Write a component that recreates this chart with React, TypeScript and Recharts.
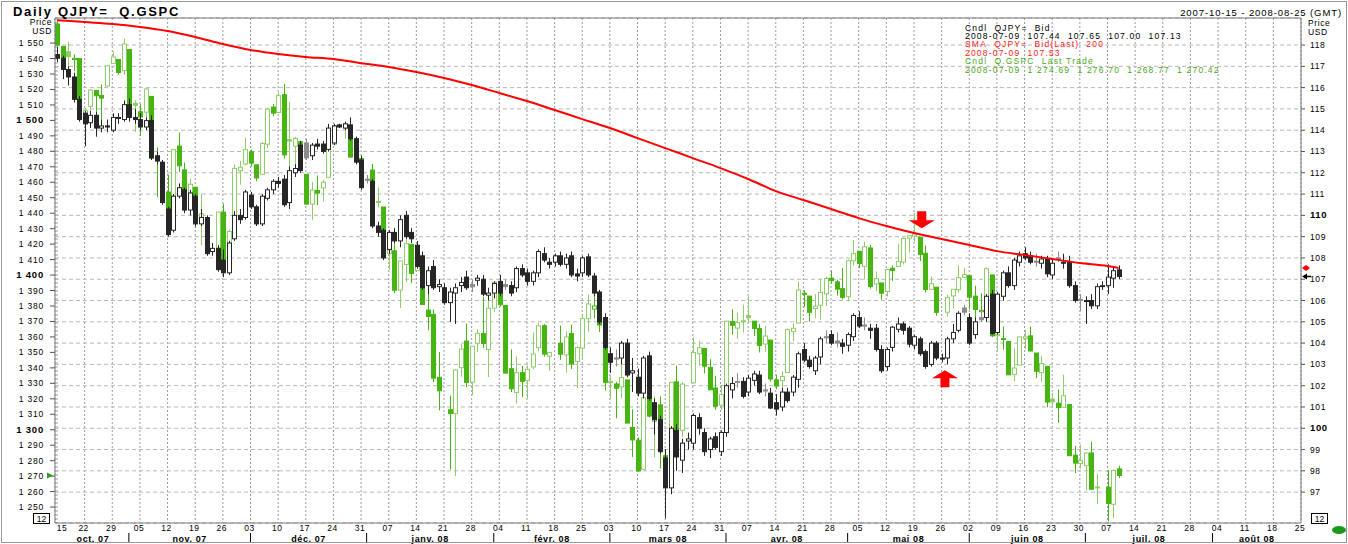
import React from "react";
import {
  Bar,
  CartesianGrid,
  ComposedChart,
  Line,
  ReferenceDot,
  ReferenceLine,
  XAxis,
  YAxis,
} from "recharts";

type Ohlc = [number, number, number, number];

const FONT = '"Liberation Sans", Arial, sans-serif';
const W = 1348;
const H = 544;
const SP = "\u00a0";

// one slot per weekday, index 0 = Mon 2007-10-15, last = Wed 2008-07-09
// QJPY= bid, [open, high, low, close]
const jpyOhlc: Ohlc[] = [
  [117.55, 117.9, 117.2, 117.38], [117.38, 117.5, 116.4, 116.85], [116.85, 117.0, 116.1, 116.5], [116.5, 116.7, 115.3, 115.45], [115.45, 115.6, 114.4, 114.5],
  [114.8, 114.9, 113.25, 114.3], [114.35, 114.9, 114.1, 114.7], [114.7, 114.85, 113.7, 114.1], [114.1, 114.5, 113.9, 114.2], [114.2, 114.5, 113.9, 114.15],
  [114.0, 114.8, 113.9, 114.6], [114.6, 114.8, 114.3, 114.55], [114.5, 115.4, 114.4, 115.2], [115.2, 115.5, 114.4, 114.6], [114.6, 115.0, 114.3, 114.5],
  [114.5, 114.8, 114.0, 114.15], [114.15, 114.6, 114.0, 114.45], [114.45, 114.7, 112.6, 112.7], [112.8, 113.0, 112.4, 112.55], [112.5, 112.6, 110.5, 110.6],
  [110.3, 110.4, 109.0, 109.1], [109.3, 111.0, 109.2, 110.9], [110.9, 111.5, 110.8, 111.3], [111.2, 111.3, 110.1, 110.25], [110.25, 111.2, 110.0, 111.05],
  [110.9, 111.0, 109.5, 109.6], [109.6, 110.3, 109.5, 109.9], [109.9, 110.0, 108.1, 108.2], [108.3, 108.7, 108.1, 108.45], [108.45, 108.6, 107.35, 107.45],
  [107.9, 108.4, 107.1, 107.3], [107.3, 108.8, 107.2, 108.7], [108.9, 110.2, 108.8, 110.0], [110.0, 110.3, 109.6, 109.8], [109.9, 111.2, 109.8, 111.1],
  [110.95, 111.1, 110.3, 110.4], [110.4, 110.5, 109.5, 109.6], [109.6, 111.0, 109.5, 110.9], [110.8, 111.3, 110.7, 111.2], [111.2, 111.7, 111.0, 111.6],
  [111.6, 111.8, 111.3, 111.5], [111.7, 111.9, 110.4, 110.5], [110.6, 112.3, 110.3, 112.1], [112.0, 112.4, 111.8, 112.2], [113.3, 113.5, 112.0, 112.1],
  [113.4, 113.6, 112.6, 112.7], [112.8, 113.4, 112.6, 113.3], [113.35, 113.6, 113.1, 113.25], [113.35, 113.5, 112.9, 113.0], [113.1, 114.3, 113.0, 114.1],
  [113.4, 114.3, 113.3, 114.2], [114.25, 114.3, 114.1, 114.15], [114.1, 114.4, 114.0, 114.3], [114.25, 114.6, 113.5, 113.6], [113.6, 113.7, 112.4, 112.5],
  [112.6, 112.8, 111.2, 111.3], [111.7, 111.9, 111.5, 111.65], [111.6, 111.7, 109.4, 109.5], [109.5, 109.7, 109.0, 109.2], [109.3, 109.4, 107.9, 108.0],
  [108.4, 109.3, 108.2, 109.2], [109.2, 109.4, 108.7, 108.8], [108.8, 110.0, 108.5, 109.8], [110.0, 110.2, 108.9, 109.0], [109.2, 109.4, 108.7, 108.9],
  [108.6, 108.8, 107.5, 107.6], [108.1, 108.3, 106.5, 106.6], [106.7, 107.6, 106.3, 107.4], [107.6, 107.9, 106.5, 106.6], [106.65, 107.0, 106.4, 106.75],
  [106.6, 106.8, 105.8, 105.9], [105.9, 106.6, 105.0, 106.4], [106.35, 106.8, 104.9, 106.6], [106.7, 107.1, 106.4, 106.85], [107.1, 107.4, 106.5, 106.6],
  [106.75, 107.0, 106.4, 106.65], [106.95, 107.2, 106.7, 107.05], [107.0, 107.2, 106.2, 106.3], [106.25, 106.6, 106.0, 106.35], [106.35, 106.9, 106.1, 106.8],
  [106.9, 107.2, 106.2, 106.35], [106.75, 107.0, 106.5, 106.65], [106.7, 106.9, 106.2, 106.35], [106.6, 107.6, 106.4, 107.5], [107.5, 107.7, 107.1, 107.2],
  [107.3, 107.5, 106.7, 106.9], [106.9, 107.4, 106.7, 107.3], [107.3, 108.4, 107.1, 108.3], [108.2, 108.5, 107.8, 107.9], [107.8, 108.0, 107.5, 107.7],
  [107.8, 108.2, 107.6, 108.1], [108.1, 108.3, 107.6, 107.7], [107.7, 108.2, 107.5, 108.0], [108.1, 108.3, 107.1, 107.2], [107.25, 107.5, 106.9, 107.15],
  [107.3, 108.1, 107.1, 108.0], [108.05, 108.2, 107.1, 107.2], [107.15, 107.3, 106.2, 106.35], [106.4, 106.5, 104.9, 105.0], [105.2, 105.4, 103.7, 103.8],
  [103.5, 103.8, 102.6, 103.1], [103.3, 103.7, 102.9, 103.25], [103.3, 104.1, 103.0, 104.0], [104.0, 104.2, 102.4, 102.5], [102.6, 103.3, 101.7, 102.7],
  [102.4, 102.8, 101.5, 101.65], [101.65, 103.4, 101.4, 103.3], [103.4, 103.6, 101.3, 101.4], [101.2, 101.4, 99.7, 100.4], [100.4, 100.6, 98.8, 98.9],
  [98.6, 99.0, 95.77, 97.2], [97.2, 100.1, 96.9, 100.0], [99.9, 100.2, 98.0, 98.65], [98.5, 99.5, 97.9, 99.3], [99.4, 99.8, 99.0, 99.5],
  [99.3, 100.7, 99.0, 100.6], [100.5, 100.7, 99.7, 100.0], [99.8, 100.0, 98.7, 98.9], [99.0, 99.6, 98.6, 99.5], [99.6, 99.8, 99.0, 99.1],
  [98.9, 99.9, 98.7, 99.8], [99.8, 102.1, 99.6, 102.0], [101.8, 102.4, 101.4, 102.1], [102.2, 102.6, 101.9, 102.15], [102.2, 102.4, 101.4, 101.5],
  [101.7, 102.5, 101.5, 102.35], [102.25, 102.7, 102.0, 102.55], [102.5, 102.7, 101.6, 101.7], [101.8, 102.1, 101.5, 101.75], [101.65, 101.9, 100.9, 100.95],
  [101.2, 101.6, 100.6, 100.9], [101.0, 101.9, 100.8, 101.7], [101.7, 101.9, 101.2, 101.3], [101.7, 102.5, 101.5, 102.4], [102.3, 103.6, 101.9, 103.5],
  [103.7, 104.0, 103.1, 103.2], [103.2, 103.4, 102.8, 102.9], [102.7, 103.4, 102.5, 103.3], [103.35, 104.3, 103.0, 104.2], [104.3, 104.6, 104.0, 104.25],
  [104.4, 104.6, 103.9, 104.0], [104.1, 104.5, 103.8, 104.0], [104.0, 104.2, 103.5, 103.85], [103.9, 104.5, 103.6, 104.4], [104.3, 105.4, 104.1, 105.3],
  [105.2, 105.5, 104.7, 104.8], [104.85, 105.2, 104.6, 104.8], [104.7, 104.9, 104.2, 104.6], [104.7, 104.9, 103.6, 103.7], [103.7, 103.9, 102.6, 102.7],
  [102.9, 103.8, 102.7, 103.7], [103.8, 104.8, 103.6, 104.75], [104.65, 105.2, 104.5, 104.9], [104.9, 105.0, 104.4, 104.6], [104.7, 104.8, 103.8, 103.95],
  [103.9, 104.4, 103.7, 104.3], [104.2, 104.3, 103.4, 103.5], [103.6, 103.7, 102.8, 102.9], [103.0, 104.1, 102.9, 104.0], [104.0, 104.1, 103.2, 103.3],
  [103.3, 103.5, 103.1, 103.25], [103.3, 104.3, 103.0, 104.2], [104.2, 104.9, 104.0, 104.5], [104.6, 105.5, 104.5, 105.4], [105.65, 105.8, 105.3, 105.45],
  [105.2, 105.4, 103.9, 104.0], [104.4, 105.2, 104.2, 105.0], [105.2, 105.5, 105.0, 105.1], [105.2, 106.3, 105.0, 106.2], [106.3, 106.5, 104.4, 104.45],
  [104.5, 106.4, 104.4, 106.3], [106.2, 107.4, 106.0, 107.3], [107.3, 107.6, 106.6, 106.7], [106.7, 108.0, 106.5, 107.9], [107.8, 108.3, 107.6, 108.1],
  [108.2, 108.5, 107.9, 108.0], [108.1, 108.3, 107.7, 107.8], [107.85, 108.2, 107.6, 107.8], [107.75, 108.1, 107.5, 107.95], [107.95, 108.1, 107.1, 107.25],
  [107.2, 108.0, 107.0, 107.75], [108.0, 108.3, 107.8, 107.95], [107.8, 108.2, 107.5, 107.75], [107.8, 108.1, 106.6, 106.7], [106.7, 106.9, 105.9, 106.0],
  [106.05, 106.3, 105.5, 106.0], [106.0, 106.2, 104.9, 106.0], [106.0, 106.3, 105.6, 105.75], [105.75, 106.8, 105.6, 106.65], [106.7, 106.9, 106.5, 106.7],
  [106.7, 107.7, 106.3, 107.1], [107.05, 107.6, 106.6, 107.4], [107.44, 107.65, 107.0, 107.13],
];

// Q.GSPC last trade, [open, high, low, close]; null = US market holiday
const spxOhlc: (Ohlc | null)[] = [
  [1562.3, 1564.7, 1540.8, 1548.7], [1547.8, 1547.8, 1536.3, 1538.5], [1544.4, 1550.7, 1526.0, 1541.2], [1539.3, 1542.8, 1531.8, 1540.1], [1540.0, 1540.0, 1500.3, 1500.6],
  [1497.8, 1508.1, 1490.4, 1506.3], [1509.1, 1520.0, 1503.6, 1519.6], [1519.4, 1519.4, 1489.6, 1515.9], [1516.2, 1523.2, 1500.5, 1514.4], [1522.2, 1535.5, 1522.2, 1535.3],
  [1536.9, 1544.7, 1536.9, 1541.0], [1539.4, 1539.4, 1529.6, 1531.0], [1532.2, 1552.8, 1529.4, 1549.4], [1545.8, 1545.8, 1506.7, 1508.4], [1511.0, 1513.2, 1492.5, 1509.7],
  [1505.6, 1510.8, 1489.9, 1502.2], [1505.3, 1520.8, 1499.1, 1520.3], [1515.5, 1515.5, 1475.0, 1475.6], [1475.3, 1482.5, 1450.3, 1474.8], [1467.6, 1474.1, 1453.0, 1453.7],
  [1453.7, 1464.9, 1437.9, 1439.2], [1441.4, 1481.4, 1441.4, 1481.1], [1483.4, 1492.1, 1466.5, 1470.6], [1468.0, 1472.7, 1443.5, 1451.2], [1453.1, 1462.2, 1443.9, 1458.7],
  [1456.7, 1456.7, 1430.4, 1433.3], [1434.5, 1452.6, 1419.3, 1439.7], [1434.7, 1436.4, 1415.6, 1416.8], null, [1417.6, 1440.9, 1417.6, 1440.7],
  [1440.7, 1446.1, 1405.1, 1407.2], [1409.6, 1429.5, 1407.4, 1428.2], [1432.9, 1471.6, 1432.9, 1469.0], [1467.4, 1473.8, 1458.4, 1469.7], [1471.8, 1488.9, 1470.9, 1481.1],
  [1479.6, 1481.2, 1470.1, 1472.4], [1471.3, 1471.3, 1460.7, 1462.8], [1465.2, 1486.1, 1465.2, 1485.0], [1484.6, 1508.0, 1482.2, 1507.3], [1508.6, 1510.6, 1502.7, 1504.7],
  [1505.1, 1518.3, 1504.7, 1516.0], [1516.7, 1523.6, 1475.4, 1477.7], [1487.6, 1511.9, 1468.2, 1486.6], [1483.3, 1489.4, 1469.2, 1488.4], [1486.2, 1486.7, 1467.8, 1468.0],
  [1465.1, 1465.1, 1445.4, 1445.9], [1445.9, 1460.2, 1435.7, 1455.0], [1454.7, 1464.4, 1445.3, 1453.0], [1456.4, 1461.5, 1447.5, 1460.1], [1463.2, 1485.4, 1463.2, 1484.5],
  [1484.6, 1497.6, 1484.6, 1496.5], null, [1495.1, 1498.8, 1488.2, 1497.7], [1495.1, 1495.1, 1475.9, 1476.3], [1479.8, 1488.0, 1471.7, 1478.5],
  [1475.3, 1475.8, 1465.1, 1468.4], null, [1467.9, 1471.8, 1442.1, 1447.2], [1447.6, 1456.8, 1443.7, 1447.2], [1444.0, 1444.0, 1411.2, 1411.6],
  [1414.1, 1423.9, 1403.5, 1416.2], [1415.7, 1430.3, 1388.3, 1390.2], [1390.3, 1409.2, 1378.7, 1409.1], [1406.8, 1429.1, 1395.3, 1420.3], [1419.9, 1419.9, 1394.8, 1401.0],
  [1402.9, 1417.9, 1402.9, 1416.3], [1411.9, 1411.9, 1380.6, 1381.0], [1377.4, 1391.0, 1364.3, 1373.2], [1374.6, 1377.7, 1330.7, 1333.3], [1333.9, 1350.3, 1312.5, 1325.2],
  null, [1312.9, 1322.1, 1274.3, 1310.5], [1310.4, 1339.1, 1270.1, 1338.6], [1340.1, 1355.2, 1334.3, 1352.1], [1357.3, 1368.6, 1327.5, 1330.6],
  [1330.7, 1354.0, 1322.3, 1354.0], [1355.9, 1364.9, 1350.3, 1362.3], [1362.2, 1385.9, 1352.9, 1355.8], [1351.9, 1385.6, 1334.1, 1378.6], [1378.6, 1396.0, 1375.9, 1395.4],
  [1395.4, 1395.4, 1379.7, 1380.8], [1380.3, 1380.3, 1336.6, 1336.6], [1339.5, 1351.9, 1324.3, 1326.5], [1324.0, 1347.3, 1316.8, 1336.9], [1336.9, 1341.2, 1321.1, 1331.3],
  [1331.9, 1341.4, 1320.3, 1339.1], [1340.6, 1362.9, 1339.0, 1348.9], [1353.1, 1369.2, 1350.8, 1367.2], [1367.3, 1368.2, 1347.3, 1348.9], [1347.5, 1350.0, 1338.1, 1350.0],
  null, [1355.9, 1367.3, 1345.1, 1348.8], [1348.4, 1363.7, 1336.8, 1360.0], [1362.2, 1367.9, 1339.3, 1342.5], [1344.2, 1354.3, 1327.0, 1353.1],
  [1352.8, 1374.4, 1346.0, 1371.8], [1371.8, 1387.3, 1363.3, 1381.3], [1378.0, 1388.3, 1372.0, 1380.0], [1378.2, 1378.2, 1363.2, 1367.7], [1364.9, 1364.9, 1325.4, 1330.6],
  [1330.5, 1335.1, 1320.0, 1331.3], [1329.6, 1331.0, 1307.4, 1326.8], [1327.7, 1344.2, 1320.2, 1333.7], [1332.2, 1332.2, 1304.2, 1304.3], [1301.5, 1313.2, 1282.4, 1293.4],
  [1293.2, 1295.0, 1272.7, 1273.4], [1274.4, 1320.7, 1274.4, 1320.7], [1321.1, 1333.3, 1307.9, 1308.8], [1305.3, 1321.7, 1282.1, 1315.5], [1316.1, 1321.5, 1274.9, 1288.1],
  [1283.2, 1287.5, 1257.0, 1276.6], [1277.2, 1330.7, 1277.2, 1330.7], [1331.0, 1341.5, 1298.4, 1298.4], [1299.7, 1330.7, 1295.2, 1329.5], null,
  [1330.3, 1359.7, 1330.3, 1349.9], [1349.1, 1357.5, 1341.2, 1353.0], [1352.5, 1352.5, 1336.4, 1341.1], [1340.3, 1345.6, 1325.7, 1325.8], [1327.0, 1334.9, 1312.9, 1315.2],
  [1315.9, 1328.5, 1312.8, 1322.7], [1326.4, 1370.2, 1326.4, 1370.2], [1370.0, 1377.9, 1361.6, 1367.5], [1365.7, 1375.7, 1358.7, 1369.3], [1369.9, 1380.9, 1362.8, 1370.4],
  [1373.7, 1386.7, 1369.0, 1372.5], [1370.2, 1370.2, 1360.6, 1365.5], [1365.5, 1368.4, 1350.0, 1354.5], [1355.4, 1367.2, 1350.1, 1360.6], [1358.0, 1358.0, 1331.2, 1332.8],
  [1332.2, 1335.6, 1326.2, 1328.3], [1331.7, 1337.7, 1324.4, 1334.4], [1337.0, 1365.5, 1337.0, 1364.7], [1363.4, 1368.6, 1357.3, 1365.6], [1369.0, 1395.9, 1369.0, 1390.3],
  [1387.7, 1390.2, 1379.3, 1388.2], [1386.4, 1386.4, 1369.8, 1375.9], [1378.4, 1387.8, 1372.2, 1379.9], [1380.5, 1397.7, 1371.1, 1388.8], [1387.9, 1399.1, 1380.0, 1397.8],
  [1398.0, 1402.9, 1394.4, 1396.4], [1395.6, 1397.0, 1386.7, 1390.9], [1391.2, 1404.6, 1384.3, 1385.6], [1386.0, 1410.1, 1383.1, 1409.3], [1409.2, 1422.7, 1406.3, 1413.9],
  [1415.3, 1415.3, 1404.4, 1407.5], [1405.6, 1421.6, 1397.1, 1418.3], [1417.5, 1419.5, 1391.2, 1392.6], [1394.3, 1402.3, 1389.4, 1397.7], [1394.9, 1394.9, 1384.1, 1388.3],
  [1389.4, 1404.1, 1386.2, 1403.6], [1404.4, 1406.3, 1396.3, 1403.0], [1405.6, 1420.2, 1405.6, 1408.7], [1408.4, 1424.4, 1406.9, 1423.6], [1423.9, 1425.8, 1414.4, 1425.4],
  [1425.3, 1440.2, 1421.6, 1426.6], [1424.5, 1424.5, 1409.1, 1413.4], [1414.1, 1419.1, 1388.8, 1390.7], [1390.8, 1399.1, 1390.2, 1394.4], [1392.2, 1392.2, 1373.7, 1375.9],
  null, [1376.0, 1387.4, 1373.1, 1385.4], [1386.5, 1391.0, 1378.6, 1390.8], [1390.5, 1406.3, 1388.6, 1398.3], [1398.4, 1404.5, 1398.1, 1400.4],
  [1399.6, 1399.6, 1377.8, 1385.7], [1386.4, 1393.1, 1370.1, 1377.7], [1376.3, 1388.2, 1371.7, 1377.2], [1377.5, 1405.1, 1377.5, 1404.1], [1400.1, 1400.1, 1359.9, 1360.7],
  [1360.8, 1370.6, 1350.7, 1361.8], [1359.0, 1366.8, 1351.6, 1358.4], [1357.1, 1357.1, 1335.5, 1335.5], [1335.8, 1353.0, 1331.3, 1339.9], [1341.8, 1360.0, 1341.8, 1360.0],
  [1358.9, 1364.7, 1352.1, 1360.1], [1360.7, 1366.6, 1350.5, 1350.9], [1349.6, 1349.6, 1333.4, 1337.8], [1336.9, 1347.7, 1330.8, 1342.8], [1341.0, 1341.0, 1314.5, 1317.9],
  [1319.8, 1323.8, 1315.3, 1318.0], [1317.2, 1326.0, 1304.4, 1314.3], [1314.5, 1335.6, 1314.5, 1322.0], [1316.3, 1316.3, 1283.2, 1283.2], [1283.6, 1289.5, 1272.0, 1278.4],
  [1278.1, 1290.3, 1274.9, 1280.0], [1276.7, 1285.3, 1260.7, 1284.9], [1285.0, 1292.2, 1261.5, 1261.5], [1263.0, 1271.5, 1252.0, 1262.9], null,
  [1262.9, 1274.0, 1240.7, 1252.3], [1251.8, 1274.2, 1242.8, 1273.7], [1274.69, 1276.7, 1268.77, 1270.42],
];

// SMA QJPY= Bid(Last) 200, read at each Monday and at the last day
const smaIndex = [0, 5, 10, 15, 20, 25, 30, 35, 40, 45, 50, 55, 60, 65, 70, 75, 80, 85, 90, 95, 100, 105, 110, 115, 120, 125, 130, 135, 140, 145, 150, 155, 160, 165, 170, 175, 180, 185, 190, 192];
const smaValues = [
  119.17, 119.08, 118.99, 118.85, 118.66, 118.38, 118.05, 117.77, 117.58, 117.44,
  117.34, 117.15, 116.97, 116.73, 116.45, 116.12, 115.75, 115.37, 114.95, 114.52,
  114.1, 113.63, 113.16, 112.69, 112.22, 111.71, 111.14, 110.72, 110.3, 109.87,
  109.5, 109.17, 108.89, 108.61, 108.32, 108.14, 107.95, 107.76, 107.62, 107.53,
];

const weekTicks = [0, 5, 10, 15, 20, 25, 30, 35, 40, 45, 50, 55, 60, 65, 70, 75, 80, 85, 90, 95, 100, 105, 110, 115, 120, 125, 130, 135, 140, 145, 150, 155, 160, 165, 170, 175, 180, 185, 190, 195, 200, 205, 210, 215, 220, 225];
const dayLabels = ["15", "22", "29", "05", "12", "19", "26", "03", "10", "17", "24", "31", "07", "14", "21", "28", "04", "11", "18", "25", "03", "10", "17", "24", "31", "07", "14", "21", "28", "05", "12", "19", "26", "02", "09", "16", "23", "30", "07", "14", "21", "28", "04", "11", "18", "25"];
const monthNames = ["oct. 07", "nov. 07", "déc. 07", "janv. 08", "févr. 08", "mars 08", "avr. 08", "mai 08", "juin 08", "juil. 08", "août 08"];
const monthStarts = [0, 13, 35, 56, 79, 100, 121, 143, 165, 186, 209, 225];
const spxTicks = [1250, 1260, 1270, 1280, 1290, 1300, 1310, 1320, 1330, 1340, 1350, 1360, 1370, 1380, 1390, 1400, 1410, 1420, 1430, 1440, 1450, 1460, 1470, 1480, 1490, 1500, 1510, 1520, 1530, 1540, 1550];
const jpyTicks = [97, 98, 99, 100, 101, 102, 103, 104, 105, 106, 107, 108, 109, 110, 111, 112, 113, 114, 115, 116, 117, 118];

const legendLines = [
  "Cndl  QJPY=  Bid",
  "2008-07-09  107.44  107.65  107.00  107.13",
  "SMA  QJPY=  Bid(Last)  200",
  "2008-07-09  107.53",
  "Cndl  Q.GSPC  Last Trade",
  "2008-07-09  1 274.69  1 276.70  1 268.77  1 270.42",
];

// annotation arrows (weekday index, QJPY level at the tip)
const downArrow = { i: 156.4, v: 109.4 };
const upArrow = { i: 160.6, v: 102.73 };

const X_DOMAIN: [number, number] = [-0.36, 225];
const SPX_DOMAIN: [number, number] = [1239.7, 1566.2];
const JPY_DOMAIN: [number, number] = [95.55, 119.27];

const rows = jpyOhlc.map((jpy, i) => {
  const k = smaIndex.indexOf(i);
  return { i, jpy, spx: spxOhlc[i], sma: k >= 0 ? smaValues[k] : null };
});

const monthCenters = monthNames.map((_, k) => (monthStarts[k] + monthStarts[k + 1]) / 2);
const monthSeps = monthStarts.slice(1, -1);

const lastJpy = jpyOhlc[jpyOhlc.length - 1][3];
const lastSma = smaValues[smaValues.length - 1];
const lastSpx = (spxOhlc[spxOhlc.length - 1] as Ohlc)[3];

const keepSpaces = (s: string) => s.replace(/ {2}/g, SP + " ");

function prevClose(list: (Ohlc | null)[], i: number) {
  for (let k = i - 1; k >= 0; k--) {
    const r = list[k];
    if (r) return r[3];
  }
  return null;
}

function makeCandle(key: "jpy" | "spx") {
  return (props: any) => {
    const { x, y, width, height, payload } = props;
    const v: Ohlc | null = payload ? payload[key] : null;
    if (!v || !Number.isFinite(y) || !Number.isFinite(height)) return <g />;
    const [o, h, l, c] = v;
    const span = h - l || 1;
    const py = (p: number) => y + ((h - p) / span) * height;
    const cx = Math.round(x + width / 2) + 0.5;
    const up = c >= o;
    const pc = prevClose(key === "jpy" ? jpyOhlc : spxOhlc, payload.i);
    const odd = pc != null && c >= pc !== up;
    let stroke: string;
    if (key === "jpy") stroke = odd ? "#8c8c8c" : "#262626";
    else stroke = up === !odd ? "#8fcd68" : "#46b512";
    const fill = up ? "#ffffff" : stroke;
    const top = py(Math.max(o, c));
    const bot = py(Math.min(o, c));
    return (
      <g>
        <line x1={cx} x2={cx} y1={py(h)} y2={py(l)} stroke={stroke} strokeWidth={1} />
        <rect x={cx - 2} y={top} width={4} height={Math.max(bot - top, 1)} fill={fill} stroke={stroke} strokeWidth={1} />
      </g>
    );
  };
}

const fmtSpx = (v: number) => `${Math.floor(v / 1000)}${SP}${String(v % 1000).padStart(3, "0")}`;

const SpxTick = (p: any) => {
  const v = p.payload.value;
  const bold = v % 100 === 0;
  return (
    <text x={p.x} y={p.y + 3} textAnchor="end" fontSize={bold ? 9.5 : 8.5} fontWeight={bold ? 700 : 400} letterSpacing={0.8} fontFamily={FONT} fill="#000">
      {fmtSpx(v)}
    </text>
  );
};

const JpyTick = (p: any) => {
  const v = p.payload.value;
  const bold = v % 10 === 0;
  return (
    <text x={p.x} y={p.y + 3} textAnchor="start" fontSize={bold ? 9.5 : 8.5} fontWeight={bold ? 700 : 400} letterSpacing={0.6} fontFamily={FONT} fill="#000">
      {v}
    </text>
  );
};

const DayTick = (p: any) => {
  const idx = weekTicks.indexOf(p.payload.value);
  const lx = idx === 0 ? p.x + 5 : p.x - 1;
  return (
    <text x={lx} y={p.y + 8} textAnchor="middle" fontSize={8.5} letterSpacing={0.5} fontFamily={FONT} fill="#000">
      {dayLabels[idx]}
    </text>
  );
};

const MonthTick = (p: any) => {
  const v = p.payload.value;
  const k = monthCenters.indexOf(v);
  if (k >= 0) {
    return (
      <text x={p.x} y={p.y + 8.5} textAnchor="middle" fontSize={9} fontWeight={700} letterSpacing={0.6} fontFamily={FONT} fill="#000">
        {monthNames[k]}
      </text>
    );
  }
  return <line x1={p.x} x2={p.x} y1={p.y} y2={p.y + 10} stroke="#000" strokeWidth={1} />;
};

const DownArrowShape = (p: any) => {
  const { cx, cy } = p;
  return <polygon points={`${cx - 4.5},${cy - 17} ${cx + 4.5},${cy - 17} ${cx + 4.5},${cy - 8} ${cx + 13},${cy - 8} ${cx},${cy} ${cx - 13},${cy - 8} ${cx - 4.5},${cy - 8}`} fill="#ff0000" />;
};

const UpArrowShape = (p: any) => {
  const { cx, cy } = p;
  return <polygon points={`${cx - 4.5},${cy + 17} ${cx + 4.5},${cy + 17} ${cx + 4.5},${cy + 8} ${cx + 13},${cy + 8} ${cx},${cy} ${cx - 13},${cy + 8} ${cx - 4.5},${cy + 8}`} fill="#ff0000" />;
};

const SmaMarker = (p: any) => {
  const { cx, cy } = p;
  return <polygon points={`${cx + 1},${cy} ${cx + 5},${cy - 3} ${cx + 9},${cy} ${cx + 5},${cy + 3}`} fill="#ff0000" />;
};

const JpyMarker = (p: any) => {
  const { cx, cy } = p;
  return (
    <g>
      <polygon points={`${cx + 1},${cy} ${cx + 6},${cy - 3} ${cx + 6},${cy + 3}`} fill="#000" />
      <line x1={cx + 5} x2={cx + 10} y1={cy} y2={cy} stroke="#000" strokeWidth={1.5} />
    </g>
  );
};

const SpxMarker = (p: any) => {
  const { cx, cy } = p;
  return <polygon points={`${cx - 8},${cy - 3} ${cx - 2},${cy} ${cx - 8},${cy + 3}`} fill="#2e9e1a" />;
};

const legendColors = ["#000", "#000", "#ff2020", "#ff2020", "#4aa820", "#4aa820"];

export default function App() {
  return (
    <div style={{ position: "absolute", left: 0, top: 0, width: W, height: H, background: "#fff" }}>
      <ComposedChart width={W} height={H} data={rows} margin={{ top: 18, right: 0, bottom: 0, left: 0 }}>
        <XAxis
          xAxisId="a"
          dataKey="i"
          type="number"
          domain={X_DOMAIN}
          allowDataOverflow
          ticks={weekTicks}
          interval={0}
          height={10}
          tickSize={0}
          tickMargin={0}
          tick={<DayTick />}
          axisLine={{ stroke: "#7a7a7a" }}
        />
        <XAxis
          xAxisId="b"
          dataKey="i"
          type="number"
          domain={X_DOMAIN}
          allowDataOverflow
          ticks={[...monthCenters, ...monthSeps]}
          interval={0}
          height={11}
          tickSize={0}
          tickMargin={0}
          tick={<MonthTick />}
          axisLine={false}
        />
        <YAxis
          yAxisId="spx"
          orientation="left"
          width={55}
          domain={SPX_DOMAIN}
          allowDataOverflow
          ticks={spxTicks}
          interval={0}
          tickSize={5}
          tickMargin={6}
          tick={<SpxTick />}
          tickLine={{ stroke: "#555" }}
          axisLine={{ stroke: "#7a7a7a" }}
        />
        <YAxis
          yAxisId="jpy"
          orientation="right"
          width={47}
          domain={JPY_DOMAIN}
          allowDataOverflow
          ticks={jpyTicks}
          interval={0}
          tickSize={4}
          tickMargin={5}
          tick={<JpyTick />}
          tickLine={{ stroke: "#555" }}
          axisLine={{ stroke: "#7a7a7a" }}
        />
        <CartesianGrid xAxisId="a" yAxisId="jpy" horizontal={false} strokeDasharray="2 2" stroke="#9a9aaa" />
        <CartesianGrid xAxisId="a" yAxisId="jpy" vertical={false} strokeDasharray="4 3" stroke="#b8b8b8" />
        <ReferenceLine xAxisId="a" yAxisId="jpy" y={JPY_DOMAIN[1]} stroke="#7a7a7a" />
        <Bar
          xAxisId="b"
          yAxisId="spx"
          dataKey={(d: any) => (d.spx ? [d.spx[2], d.spx[1]] : null)}
          barSize={4}
          shape={makeCandle("spx")}
          isAnimationActive={false}
        />
        <Bar
          xAxisId="a"
          yAxisId="jpy"
          dataKey={(d: any) => [d.jpy[2], d.jpy[1]]}
          barSize={4}
          shape={makeCandle("jpy")}
          isAnimationActive={false}
        />
        <Line
          xAxisId="a"
          yAxisId="jpy"
          dataKey="sma"
          type="monotone"
          stroke="#ff0000"
          strokeWidth={2}
          dot={false}
          connectNulls
          isAnimationActive={false}
        />
        <ReferenceDot xAxisId="a" yAxisId="jpy" x={downArrow.i} y={downArrow.v} shape={<DownArrowShape />} ifOverflow="visible" />
        <ReferenceDot xAxisId="a" yAxisId="jpy" x={upArrow.i} y={upArrow.v} shape={<UpArrowShape />} ifOverflow="visible" />
        <ReferenceDot xAxisId="a" yAxisId="jpy" x={X_DOMAIN[1]} y={lastSma} shape={<SmaMarker />} ifOverflow="visible" />
        <ReferenceDot xAxisId="a" yAxisId="jpy" x={X_DOMAIN[1]} y={lastJpy} shape={<JpyMarker />} ifOverflow="visible" />
        <ReferenceDot xAxisId="b" yAxisId="spx" x={X_DOMAIN[0]} y={lastSpx} shape={<SpxMarker />} ifOverflow="visible" />
      </ComposedChart>
      <svg width={W} height={H} style={{ position: "absolute", left: 0, top: 0, pointerEvents: "none" }} fontFamily={FONT}>
        <rect x={1.5} y={1.5} width={W - 3} height={H - 3} fill="none" stroke="#9a9a9a" />
        <text x={13} y={16} fontSize={13} fontWeight={700} letterSpacing={1.7}>{keepSpaces("Daily QJPY=  Q.GSPC")}</text>
        <text x={1342} y={16} fontSize={9.5} letterSpacing={0.9} textAnchor="end">2007-10-15 - 2008-08-25 (GMT)</text>
        <text x={52} y={25} fontSize={8.5} letterSpacing={0.6} textAnchor="end">Price</text>
        <text x={52} y={34} fontSize={8.5} letterSpacing={0.6} textAnchor="end">USD</text>
        <text x={1308} y={26} fontSize={8.5} letterSpacing={0.6}>Price</text>
        <text x={1308} y={35} fontSize={8.5} letterSpacing={0.6}>USD</text>
        <g fontSize={8.5} letterSpacing={1.2}>
          {legendLines.map((s, k) => (
            <text key={k} x={965} y={[30.5, 39, 47.3, 55.6, 64.3, 72.6][k]} fill={legendColors[k]}>
              {keepSpaces(s)}
            </text>
          ))}
        </g>
        <rect x={33.5} y={513.5} width={16} height={10} fill="#fff" stroke="#000" />
        <text x={41.5} y={522} fontSize={8.5} textAnchor="middle">12</text>
        <rect x={1311.5} y={513.5} width={16} height={10} fill="#fff" stroke="#000" />
        <text x={1319.5} y={522} fontSize={8.5} textAnchor="middle">12</text>
        <ellipse cx={1339} cy={530} rx={7} ry={4} fill="#1a9a1a" />
      </svg>
    </div>
  );
}
